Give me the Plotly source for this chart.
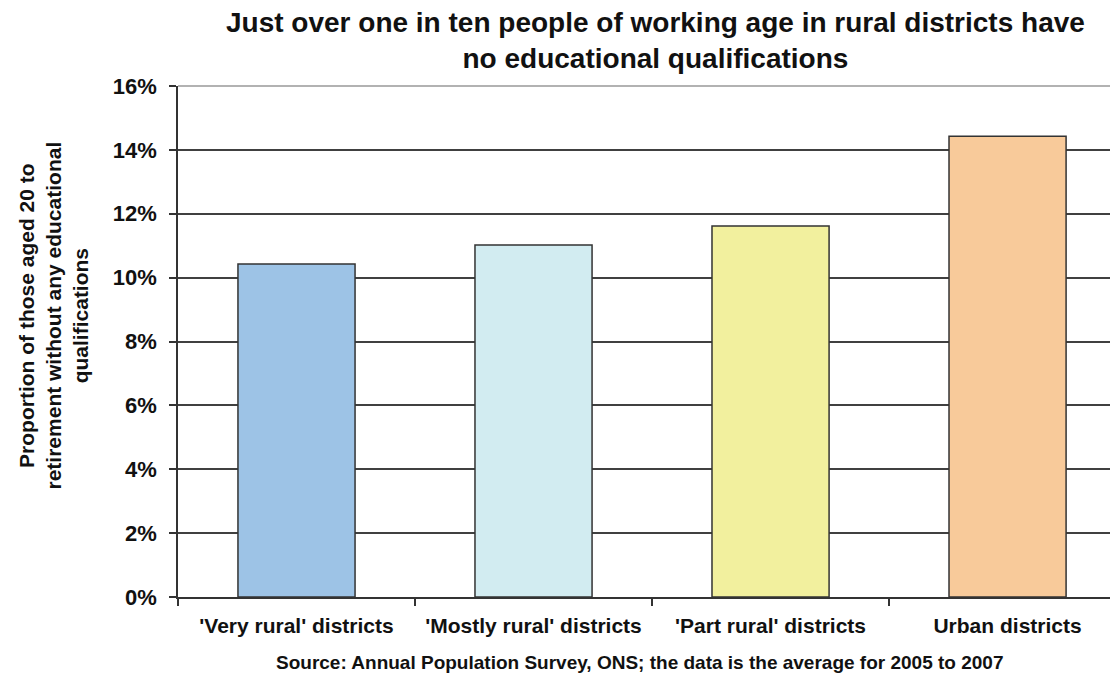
import plotly.graph_objects as go

categories = ["'Very rural' districts", "'Mostly rural' districts", "'Part rural' districts", "Urban districts"]
values = [10.43, 11.02, 11.62, 14.43]
colors = ["#9DC3E6", "#D2ECF1", "#F2F09E", "#F8CA9A"]
y_ticks = [0, 2, 4, 6, 8, 10, 12, 14, 16]
y_tick_labels = [f"{v}%" for v in y_ticks]

FONT = "Liberation Sans, Arial, sans-serif"

# The page body adds an 8px margin; the figure is sized so it fills the window.
W, H = 1110, 667
L, T, B = 170, 78, 78
PW = W - L

fig = go.Figure()
fig.add_trace(go.Bar(
    x=categories, y=values,
    marker=dict(color=colors, line=dict(color="#333333", width=1.5)),
    width=0.494,
    hoverinfo="skip",
))

fig.update_layout(
    width=W, height=H,
    margin=dict(l=L, r=0, t=T, b=B, pad=0),
    paper_bgcolor="white", plot_bgcolor="white",
    showlegend=False,
    font=dict(family=FONT, color="#111111"),
    xaxis=dict(
        range=[-0.5, 3.466],
        showgrid=False,
        showline=True, linecolor="#333333", linewidth=1.5,
        ticks="outside", tickson="boundaries", ticklen=7, tickcolor="#333333", tickwidth=1.5,
        tickfont=dict(size=21, family=FONT, color="#111111"),
        tickprefix="<b>", ticksuffix="</b>",
        ticklabelstandoff=9,
        fixedrange=True,
    ),
    yaxis=dict(
        range=[0, 16],
        tickvals=y_ticks, ticktext=[f"<b>{t}</b>" for t in y_tick_labels],
        showgrid=True, gridcolor="#404040", gridwidth=1.5,
        showline=True, linecolor="#333333", linewidth=1.5,
        ticks="outside", ticklen=7, tickcolor="#333333", tickwidth=1.5,
        tickfont=dict(size=22, family=FONT, color="#111111"),
        ticklabelstandoff=8,
        zeroline=False,
        fixedrange=True,
    ),
    annotations=[
        dict(
            text="<b>Just over one in ten people of working age in rural districts have<br>no educational qualifications</b>",
            xref="paper", yref="paper", x=(647 - L) / PW, y=1,
            xanchor="center", yanchor="middle", yshift=46,
            showarrow=False, font=dict(size=28, family=FONT, color="#111111"),
        ),
        dict(
            text="<b>Proportion of those aged 20 to<br>retirement without any educational<br>qualifications</b>",
            textangle=-90, xref="paper", yref="paper", x=0, y=0.5,
            xanchor="center", yanchor="middle", xshift=45 - L, yshift=26,
            showarrow=False, font=dict(size=21, family=FONT, color="#111111"),
        ),
        dict(
            text="<b>Source: Annual Population Survey, ONS; the data is the average for 2005 to 2007</b>",
            xref="paper", yref="paper", x=(631 - L) / PW, y=0,
            xanchor="center", yanchor="middle", yshift=-65,
            showarrow=False, font=dict(size=19, family=FONT, color="#111111"),
        ),
    ],
    shapes=[
        dict(type="line", xref="paper", yref="paper", x0=0, x1=1, y0=1, y1=1,
             line=dict(color="#999999", width=1.5)),
    ],
)

fig.write_html("out.html")
